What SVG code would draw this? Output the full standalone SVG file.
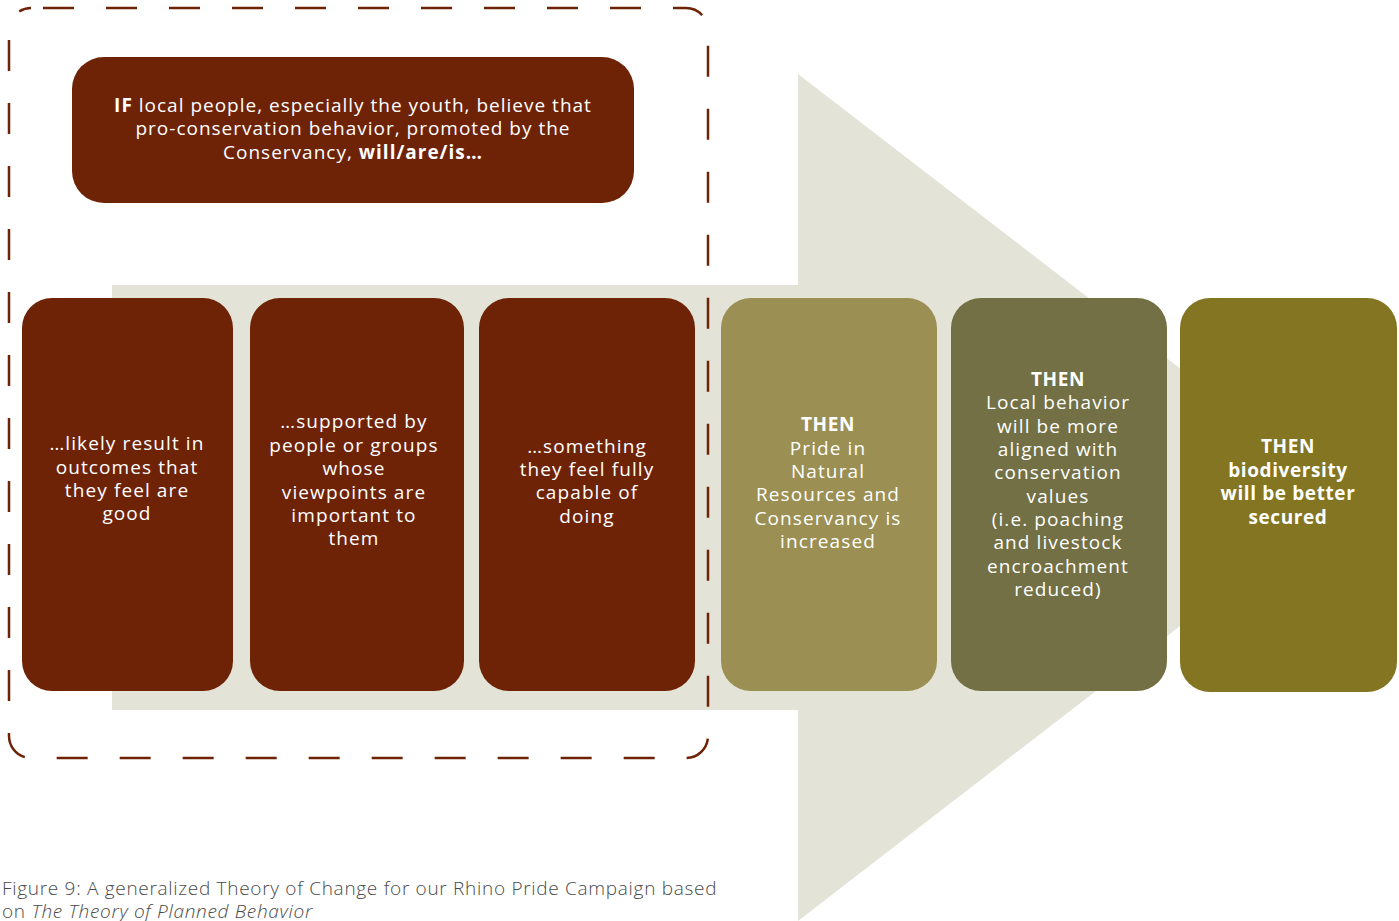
<svg xmlns="http://www.w3.org/2000/svg" width="1399" height="921" viewBox="0 0 1399 921">
<style>
.box{stroke:none}
.t{font-family:"Open Sans","Liberation Sans",sans-serif;font-size:19px;fill:#ffffff;text-anchor:middle;letter-spacing:1.1px}
.b{font-weight:bold;letter-spacing:0.6px}
.top{font-family:"Open Sans","Liberation Sans",sans-serif;font-size:19px;fill:#ffffff;text-anchor:middle;letter-spacing:1px}
.cap{font-family:"Open Sans","Liberation Sans",sans-serif;font-size:19px;fill:#4a4a4a;font-weight:300;letter-spacing:0.7px}
</style>
<rect width="1399" height="921" fill="#ffffff"/>
<g id="arrow">
<rect x="112" y="285" width="687" height="425" fill="#e4e3d7"/>
<polygon points="798,74 1347,497 798,921" fill="#e4e3d7"/>
</g>
<g id="if-group">
<rect x="9" y="8" width="699" height="750" rx="22" fill="none" stroke="#6e2307" stroke-width="2.5" stroke-dasharray="31 32" stroke-dashoffset="-12"/>
</g>
<g id="if-box">
<rect class="box" x="72" y="57" width="562" height="146" rx="32" fill="#6e2307"/>
<text class="top" x="353" y="112"><tspan font-weight="bold">IF</tspan> local people, especially the youth, believe that</text>
<text class="top" x="353" y="135">pro-conservation behavior, promoted by the</text>
<text class="top" x="353" y="159">Conservancy, <tspan font-weight="bold">will/are/is…</tspan></text>
</g>
<g id="box1">
<rect class="box" x="22" y="298" width="211" height="393" rx="30" fill="#6e2307"/>
<text class="t" x="127" y="450">…likely result in</text>
<text class="t" x="127" y="474">outcomes that</text>
<text class="t" x="127" y="497">they feel are</text>
<text class="t" x="127" y="520">good</text>
</g>
<g id="box2">
<rect class="box" x="250" y="298" width="214" height="393" rx="30" fill="#6e2307"/>
<text class="t" x="354" y="428">…supported by</text>
<text class="t" x="354" y="452">people or groups</text>
<text class="t" x="354" y="475">whose</text>
<text class="t" x="354" y="499">viewpoints are</text>
<text class="t" x="354" y="522">important to</text>
<text class="t" x="354" y="545">them</text>
</g>
<g id="box3">
<rect class="box" x="479" y="298" width="216" height="393" rx="30" fill="#6e2307"/>
<text class="t" x="587" y="453">…something</text>
<text class="t" x="587" y="476">they feel fully</text>
<text class="t" x="587" y="499">capable of</text>
<text class="t" x="587" y="523">doing</text>
</g>
<g id="box4">
<rect class="box" x="721" y="298" width="216" height="393" rx="30" fill="#9b8f53"/>
<text class="t b" x="828" y="431">THEN</text>
<text class="t" x="828" y="455">Pride in</text>
<text class="t" x="828" y="478">Natural</text>
<text class="t" x="828" y="501">Resources and</text>
<text class="t" x="828" y="525">Conservancy is</text>
<text class="t" x="828" y="548">increased</text>
</g>
<g id="box5">
<rect class="box" x="951" y="298" width="216" height="393" rx="30" fill="#727044"/>
<text class="t b" x="1058" y="386">THEN</text>
<text class="t" x="1058" y="409">Local behavior</text>
<text class="t" x="1058" y="433">will be more</text>
<text class="t" x="1058" y="456">aligned with</text>
<text class="t" x="1058" y="479">conservation</text>
<text class="t" x="1058" y="503">values</text>
<text class="t" x="1058" y="526">(i.e. poaching</text>
<text class="t" x="1058" y="549">and livestock</text>
<text class="t" x="1058" y="573">encroachment</text>
<text class="t" x="1058" y="596">reduced)</text>
</g>
<g id="box6">
<rect class="box" x="1180" y="298" width="217" height="394" rx="30" fill="#837522"/>
<text class="t b" x="1288" y="453">THEN</text>
<text class="t b" x="1288" y="477">biodiversity</text>
<text class="t b" x="1288" y="500">will be better</text>
<text class="t b" x="1288" y="524">secured</text>
</g>
<g id="caption">
<text class="cap" x="2" y="895">Figure 9: A generalized Theory of Change for our Rhino Pride Campaign based</text>
<text class="cap" x="2" y="918">on <tspan font-style="italic">The Theory of Planned Behavior</tspan></text>
</g>
<g id="connectors"></g>
</svg>
